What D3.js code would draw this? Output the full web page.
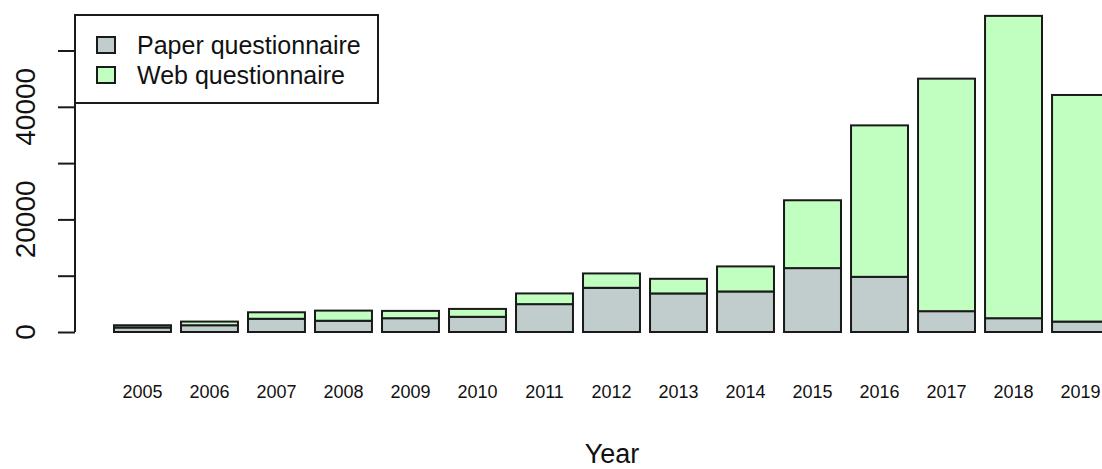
<!DOCTYPE html>
<html>
<head>
<meta charset="utf-8">
<script src="https://cdn.jsdelivr.net/npm/d3@7"></script>
<style>
  html, body { margin: 0; padding: 0; background: #fff; }
  svg { display: block; font-family: "Liberation Sans", Arial, sans-serif; }
</style>
</head>
<body>
<svg id="chart" width="1102" height="469"></svg>
<script>
// Responses per year, split by questionnaire mode
const years = ["2005","2006","2007","2008","2009","2010","2011","2012","2013","2014","2015","2016","2017","2018","2019"];
const paper = [800, 1200, 2350, 2000, 2450, 2700, 4950, 7850, 6850, 7200, 11350, 9800, 3700, 2450, 1850];
const web   = [400, 650, 1150, 1800, 1300, 1400, 1900, 2550, 2600, 4450, 12050, 26900, 41300, 53700, 40250];
const seriesNames = ["Paper questionnaire", "Web questionnaire"];
const seriesColors = ["#C1CDCD", "#C1FFC1"];
const yTicks = [0, 10000, 20000, 30000, 40000, 50000];
const yLabels = [0, 20000, 40000];

const svg = d3.select("#chart");

const x = d3.scaleBand()
  .domain(years)
  .range([114, 1109])
  .paddingInner(0.15)
  .paddingOuter(0);

const y = d3.scaleLinear()
  .domain([0, 50000])
  .range([332, 50.5]);

const rows = years.map((yr, i) => ({ year: yr, paper: paper[i], web: web[i] }));
const stack = d3.stack().keys(["paper", "web"])(rows);

// stacked bars
const layers = svg.append("g")
  .selectAll("g")
  .data(stack)
  .join("g")
  .attr("fill", (d, i) => seriesColors[i]);

layers.selectAll("rect")
  .data(d => d)
  .join("rect")
  .attr("x", d => x(d.data.year))
  .attr("width", x.bandwidth())
  .attr("y", d => y(d[1]))
  .attr("height", d => y(d[0]) - y(d[1]))
  .attr("stroke", "#1a1a1a")
  .attr("stroke-width", 2);

// y axis
const yAxis = svg.append("g")
  .attr("transform", "translate(75,0)")
  .call(d3.axisLeft(y).tickValues(yTicks).tickSize(17).tickFormat(""));
yAxis.select(".domain")
  .attr("d", `M0,${y(0)}V${y(50000)}`)
  .attr("stroke", "#1a1a1a")
  .attr("stroke-width", 2);
yAxis.selectAll(".tick line").attr("stroke", "#1a1a1a").attr("stroke-width", 2);

svg.append("g")
  .selectAll("text")
  .data(yLabels)
  .join("text")
  .attr("transform", d => `translate(35,${y(d)}) rotate(-90)`)
  .attr("text-anchor", "middle")
  .attr("font-size", 28)
  .attr("fill", "#111")
  .text(d => d);

// year labels
svg.append("g")
  .selectAll("text")
  .data(years)
  .join("text")
  .attr("x", d => x(d) + x.bandwidth() / 2)
  .attr("y", 398)
  .attr("text-anchor", "middle")
  .attr("font-size", 18)
  .attr("fill", "#111")
  .text(d => d);

// x axis title
svg.append("text")
  .attr("x", 612)
  .attr("y", 463)
  .attr("text-anchor", "middle")
  .attr("font-size", 27)
  .attr("fill", "#111")
  .text("Year");

// legend
const legend = svg.append("g");
legend.append("rect")
  .attr("x", 75).attr("y", 15)
  .attr("width", 303).attr("height", 88)
  .attr("fill", "#fff")
  .attr("stroke", "#1a1a1a")
  .attr("stroke-width", 2);

const items = legend.selectAll("g.item")
  .data(seriesNames)
  .join("g")
  .attr("class", "item")
  .attr("transform", (d, i) => `translate(0,${45 + i * 30})`);

items.append("rect")
  .attr("x", 97).attr("y", -8)
  .attr("width", 18).attr("height", 16)
  .attr("fill", (d, i) => seriesColors[i])
  .attr("stroke", "#1a1a1a")
  .attr("stroke-width", 2);

items.append("text")
  .attr("x", 137)
  .attr("y", 9)
  .attr("font-size", 25)
  .attr("fill", "#111")
  .text(d => d);
</script>
</body>
</html>
